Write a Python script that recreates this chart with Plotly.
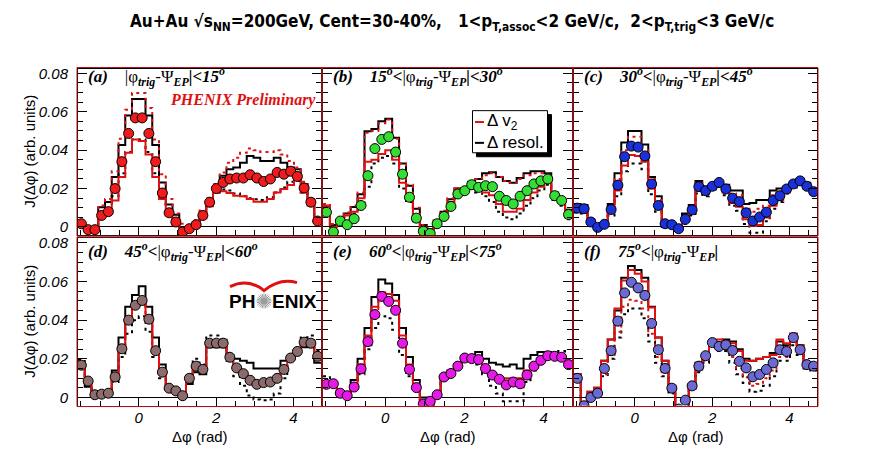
import numpy as np
import plotly.graph_objects as go

# bins in delta phi: 36 bins from -pi/2 to 3pi/2
n_bins = 36
edges = -np.pi / 2 + np.arange(n_bins + 1) * (2 * np.pi / n_bins)
centers = 0.5 * (edges[:-1] + edges[1:])

# ---- panel (a) 0-15 deg
a_pts = [0.0017, -0.0014, -0.0014, 0.0060, 0.0080, 0.0200, 0.0340, 0.0487, 0.0568, 0.0568, 0.0487, 0.0340,
         0.0177, 0.0074, 0.0026, -0.0026, -0.0009, 0.0012, 0.0060, 0.0129, 0.0200, 0.0232, 0.0250, 0.0255,
         0.0255, 0.0272, 0.0255, 0.0237, 0.0250, 0.0284, 0.0275, 0.0290, 0.0263, 0.0203, 0.0129, 0.0031]
a_bs = [0.0015, -0.0008, -0.0008, 0.0103, 0.0130, 0.0260, 0.0427, 0.0580, 0.0666, 0.0666, 0.0580, 0.0427,
        0.0232, 0.0117, 0.0064, 0.0000, 0.0000, 0.0026, 0.0070, 0.0132, 0.0203, 0.0267, 0.0300, 0.0310,
        0.0335, 0.0370, 0.0360, 0.0344, 0.0344, 0.0360, 0.0335, 0.0310, 0.0300, 0.0224, 0.0138, 0.0043]
a_bd = [0.0015, -0.0010, -0.0010, 0.0060, 0.0085, 0.0160, 0.0280, 0.0390, 0.0455, 0.0455, 0.0390, 0.0280,
        0.0160, 0.0060, 0.0020, -0.0020, -0.0010, 0.0010, 0.0060, 0.0120, 0.0180, 0.0195, 0.0190, 0.0175,
        0.0160, 0.0150, 0.0145, 0.0140, 0.0155, 0.0180, 0.0205, 0.0235, 0.0240, 0.0180, 0.0125, 0.0030]
a_rs = [0.0012, -0.0012, -0.0012, 0.0046, 0.0077, 0.0138, 0.0260, 0.0387, 0.0456, 0.0447, 0.0378, 0.0260,
        0.0146, 0.0060, 0.0010, -0.0034, -0.0017, 0.0000, 0.0046, 0.0108, 0.0180, 0.0186, 0.0177, 0.0163,
        0.0160, 0.0146, 0.0132, 0.0132, 0.0146, 0.0180, 0.0198, 0.0218, 0.0250, 0.0180, 0.0112, 0.0026]
a_rd = [0.0020, 0.0000, 0.0000, 0.0112, 0.0146, 0.0290, 0.0460, 0.0610, 0.0697, 0.0697, 0.0620, 0.0456,
        0.0275, 0.0146, 0.0070, 0.0017, 0.0005, 0.0034, 0.0086, 0.0150, 0.0224, 0.0284, 0.0335, 0.0360,
        0.0387, 0.0408, 0.0400, 0.0390, 0.0390, 0.0400, 0.0378, 0.0344, 0.0310, 0.0236, 0.0146, 0.0050]

# ---- panel (b) 15-30 deg
b_pts = [0.0077, -0.0026, 0.0031, 0.0012, 0.0043, 0.0112, 0.0267, 0.0408, 0.0456, 0.0470, 0.0390, 0.0275,
         0.0155, 0.0046, -0.0022, -0.0034, 0.0017, 0.0055, 0.0107, 0.0172, 0.0189, 0.0220, 0.0206, 0.0215,
         0.0210, 0.0160, 0.0138, 0.0120, 0.0160, 0.0189, 0.0224, 0.0240, 0.0250, 0.0163, 0.0138, 0.0065]
b_bs = [0.0110, 0.0010, 0.0030, 0.0070, 0.0104, 0.0170, 0.0499, 0.0510, 0.0550, 0.0564, 0.0464, 0.0330,
        0.0215, 0.0095, 0.0010, -0.0010, 0.0030, 0.0080, 0.0145, 0.0200, 0.0200, 0.0235, 0.0250, 0.0280,
        0.0285, 0.0260, 0.0240, 0.0230, 0.0255, 0.0280, 0.0290, 0.0290, 0.0280, 0.0180, 0.0150, 0.0090]
b_bd = [0.0100, -0.0020, 0.0020, 0.0050, 0.0070, 0.0120, 0.0210, 0.0330, 0.0360, 0.0370, 0.0330, 0.0200,
        0.0130, 0.0030, -0.0030, -0.0040, 0.0005, 0.0050, 0.0105, 0.0180, 0.0195, 0.0200, 0.0180, 0.0160,
        0.0130, 0.0080, 0.0050, 0.0040, 0.0070, 0.0110, 0.0150, 0.0190, 0.0220, 0.0140, 0.0110, 0.0040]
b_rs = [0.0110, 0.0000, 0.0020, 0.0060, 0.0080, 0.0150, 0.0340, 0.0350, 0.0380, 0.0400, 0.0350, 0.0230,
        0.0160, 0.0040, -0.0020, -0.0030, 0.0015, 0.0070, 0.0130, 0.0200, 0.0200, 0.0215, 0.0190, 0.0180,
        0.0165, 0.0120, 0.0080, 0.0080, 0.0095, 0.0140, 0.0180, 0.0210, 0.0240, 0.0160, 0.0130, 0.0050]
b_rd = [0.0120, 0.0015, 0.0035, 0.0075, 0.0110, 0.0180, 0.0490, 0.0500, 0.0540, 0.0560, 0.0460, 0.0330,
        0.0220, 0.0100, 0.0010, -0.0005, 0.0035, 0.0085, 0.0150, 0.0200, 0.0200, 0.0230, 0.0250, 0.0270,
        0.0280, 0.0260, 0.0240, 0.0230, 0.0250, 0.0270, 0.0280, 0.0280, 0.0275, 0.0175, 0.0150, 0.0090]

# ---- panel (c) 30-45 deg
c_pts = [0.0098, 0.0095, 0.0026, -0.0002, 0.0014, 0.0091, 0.0218, 0.0366, 0.0421, 0.0416, 0.0370, 0.0224,
         0.0112, 0.0017, 0.0012, -0.0009, 0.0040, 0.0089, 0.0210, 0.0189, 0.0212, 0.0232, 0.0198, 0.0150,
         0.0132, 0.0074, 0.0031, 0.0052, 0.0077, 0.0138, 0.0163, 0.0198, 0.0224, 0.0240, 0.0212, 0.0184]
c_bs = [0.0120, 0.0115, 0.0040, 0.0010, 0.0020, 0.0120, 0.0280, 0.0440, 0.0500, 0.0500, 0.0430, 0.0260,
        0.0160, 0.0030, 0.0020, 0.0000, 0.0070, 0.0115, 0.0240, 0.0210, 0.0220, 0.0235, 0.0220, 0.0190,
        0.0190, 0.0120, 0.0125, 0.0140, 0.0140, 0.0190, 0.0200, 0.0210, 0.0235, 0.0250, 0.0230, 0.0200]
c_bd = [0.0075, 0.0070, 0.0010, -0.0012, 0.0005, 0.0060, 0.0160, 0.0290, 0.0330, 0.0330, 0.0300, 0.0170,
        0.0080, 0.0000, -0.0005, -0.0020, 0.0015, 0.0060, 0.0175, 0.0160, 0.0195, 0.0210, 0.0165, 0.0110,
        0.0085, 0.0015, -0.0030, -0.0030, 0.0030, 0.0095, 0.0130, 0.0175, 0.0205, 0.0225, 0.0195, 0.0165]
c_rs = [0.0085, 0.0080, 0.0015, -0.0008, 0.0008, 0.0075, 0.0190, 0.0320, 0.0375, 0.0370, 0.0340, 0.0200,
        0.0095, 0.0008, 0.0005, -0.0015, 0.0030, 0.0075, 0.0190, 0.0170, 0.0200, 0.0215, 0.0180, 0.0125,
        0.0105, 0.0040, 0.0005, 0.0010, 0.0050, 0.0110, 0.0140, 0.0180, 0.0210, 0.0230, 0.0200, 0.0170]
c_rd = [0.0110, 0.0110, 0.0035, 0.0005, 0.0018, 0.0110, 0.0250, 0.0400, 0.0470, 0.0470, 0.0400, 0.0250,
        0.0140, 0.0025, 0.0018, -0.0003, 0.0055, 0.0105, 0.0230, 0.0205, 0.0215, 0.0230, 0.0215, 0.0175,
        0.0165, 0.0095, 0.0080, 0.0095, 0.0110, 0.0165, 0.0185, 0.0205, 0.0230, 0.0245, 0.0225, 0.0195]

# ---- panel (d) 45-60 deg
d_pts = [0.0167, 0.0085, 0.0014, 0.0017, 0.0022, 0.0106, 0.0252, 0.0400, 0.0477, 0.0502, 0.0405, 0.0242,
         0.0131, 0.0048, 0.0034, 0.0009, 0.0099, 0.0162, 0.0145, 0.0281, 0.0281, 0.0281, 0.0208, 0.0153,
         0.0123, 0.0089, 0.0068, 0.0077, 0.0080, 0.0099, 0.0145, 0.0204, 0.0238, 0.0286, 0.0281, 0.0213]
d_bs = [0.0150, 0.0055, 0.0005, 0.0010, 0.0020, 0.0140, 0.0310, 0.0470, 0.0530, 0.0575, 0.0470, 0.0310,
        0.0170, 0.0045, 0.0030, 0.0000, 0.0070, 0.0130, 0.0120, 0.0260, 0.0260, 0.0260, 0.0220, 0.0200,
        0.0190, 0.0180, 0.0150, 0.0150, 0.0150, 0.0150, 0.0190, 0.0210, 0.0240, 0.0260, 0.0260, 0.0180]
d_bd = [0.0195, 0.0075, 0.0005, 0.0010, 0.0015, 0.0080, 0.0210, 0.0330, 0.0400, 0.0420, 0.0340, 0.0210,
        0.0100, 0.0040, 0.0030, 0.0010, 0.0120, 0.0200, 0.0170, 0.0320, 0.0320, 0.0300, 0.0190, 0.0110,
        0.0060, 0.0010, -0.0010, -0.0015, -0.0010, 0.0020, 0.0100, 0.0200, 0.0250, 0.0310, 0.0320, 0.0240]
d_rs = [0.0165, 0.0083, 0.0012, 0.0015, 0.0020, 0.0104, 0.0250, 0.0398, 0.0474, 0.0498, 0.0402, 0.0240,
        0.0129, 0.0046, 0.0032, 0.0007, 0.0097, 0.0160, 0.0143, 0.0279, 0.0279, 0.0279, 0.0206, 0.0151,
        0.0121, 0.0087, 0.0066, 0.0075, 0.0078, 0.0097, 0.0143, 0.0202, 0.0236, 0.0284, 0.0279, 0.0211]
d_rd = [0.0169, 0.0087, 0.0016, 0.0019, 0.0024, 0.0108, 0.0254, 0.0402, 0.0480, 0.0506, 0.0408, 0.0244,
        0.0133, 0.0050, 0.0036, 0.0011, 0.0101, 0.0164, 0.0147, 0.0283, 0.0283, 0.0283, 0.0210, 0.0155,
        0.0125, 0.0091, 0.0070, 0.0079, 0.0082, 0.0101, 0.0147, 0.0206, 0.0240, 0.0288, 0.0283, 0.0215]

# ---- panel (e) 60-75 deg
e_pts = [0.0068, 0.0071, 0.0022, 0.0009, 0.0054, 0.0148, 0.0289, 0.0429, 0.0523, 0.0497, 0.0451, 0.0281,
         0.0145, 0.0051, -0.0034, -0.0020, 0.0014, 0.0106, 0.0124, 0.0162, 0.0204, 0.0201, 0.0196, 0.0150,
         0.0116, 0.0094, 0.0065, 0.0080, 0.0071, 0.0116, 0.0162, 0.0192, 0.0216, 0.0213, 0.0208, 0.0170]
e_bs = [0.0060, 0.0060, 0.0020, 0.0010, 0.0090, 0.0200, 0.0360, 0.0520, 0.0610, 0.0590, 0.0530, 0.0360,
        0.0210, 0.0090, 0.0000, -0.0020, 0.0020, 0.0100, 0.0130, 0.0170, 0.0200, 0.0200, 0.0235, 0.0200,
        0.0180, 0.0170, 0.0160, 0.0170, 0.0150, 0.0200, 0.0220, 0.0235, 0.0235, 0.0230, 0.0220, 0.0180]
e_bd = [0.0110, 0.0090, 0.0025, 0.0005, 0.0040, 0.0120, 0.0250, 0.0360, 0.0420, 0.0410, 0.0350, 0.0220,
        0.0110, 0.0040, -0.0045, -0.0045, 0.0020, 0.0120, 0.0140, 0.0160, 0.0190, 0.0190, 0.0170, 0.0120,
        0.0060, 0.0020, -0.0020, -0.0020, -0.0020, 0.0080, 0.0140, 0.0190, 0.0230, 0.0230, 0.0240, 0.0190]
e_rs = [0.0065, 0.0065, 0.0020, 0.0008, 0.0065, 0.0170, 0.0320, 0.0470, 0.0545, 0.0535, 0.0500, 0.0320,
        0.0170, 0.0070, -0.0040, -0.0040, 0.0005, 0.0105, 0.0130, 0.0170, 0.0200, 0.0200, 0.0200, 0.0155,
        0.0125, 0.0100, 0.0100, 0.0100, 0.0100, 0.0140, 0.0175, 0.0200, 0.0220, 0.0220, 0.0210, 0.0170]
e_rd = [0.0070, 0.0068, 0.0022, 0.0006, 0.0060, 0.0160, 0.0300, 0.0440, 0.0500, 0.0495, 0.0460, 0.0300,
        0.0160, 0.0065, -0.0042, -0.0042, 0.0005, 0.0105, 0.0125, 0.0160, 0.0195, 0.0195, 0.0190, 0.0140,
        0.0105, 0.0080, 0.0060, 0.0060, 0.0065, 0.0120, 0.0165, 0.0195, 0.0220, 0.0225, 0.0215, 0.0175]

# ---- panel (f) 75-90 deg
f_pts = [0.0099, -0.0043, 0.0000, 0.0022, 0.0150, 0.0242, 0.0395, 0.0541, 0.0596, 0.0567, 0.0528, 0.0383,
         0.0247, 0.0150, 0.0048, -0.0060, -0.0014, 0.0060, 0.0162, 0.0216, 0.0284, 0.0264, 0.0272, 0.0243,
         0.0187, 0.0153, 0.0107, 0.0119, 0.0145, 0.0179, 0.0247, 0.0238, 0.0310, 0.0247, 0.0170, 0.0162]
f_bs = [0.0120, -0.0050, 0.0030, 0.0050, 0.0190, 0.0300, 0.0450, 0.0620, 0.0680, 0.0660, 0.0620, 0.0470,
        0.0310, 0.0190, 0.0060, -0.0060, -0.0060, 0.0070, 0.0180, 0.0220, 0.0290, 0.0280, 0.0300, 0.0290,
        0.0250, 0.0200, 0.0190, 0.0200, 0.0210, 0.0230, 0.0290, 0.0270, 0.0330, 0.0270, 0.0180, 0.0170]
f_bd = [0.0085, -0.0050, 0.0005, 0.0025, 0.0110, 0.0200, 0.0310, 0.0430, 0.0460, 0.0460, 0.0410, 0.0290,
        0.0180, 0.0110, 0.0020, -0.0060, -0.0060, 0.0045, 0.0130, 0.0180, 0.0260, 0.0240, 0.0240, 0.0180,
        0.0120, 0.0075, 0.0030, 0.0035, 0.0060, 0.0110, 0.0190, 0.0190, 0.0270, 0.0220, 0.0150, 0.0140]
f_rs = [0.0120, -0.0050, 0.0030, 0.0050, 0.0190, 0.0300, 0.0460, 0.0605, 0.0660, 0.0640, 0.0600, 0.0465,
        0.0310, 0.0190, 0.0060, -0.0060, -0.0060, 0.0070, 0.0180, 0.0225, 0.0295, 0.0300, 0.0290, 0.0280,
        0.0240, 0.0190, 0.0190, 0.0200, 0.0210, 0.0220, 0.0300, 0.0280, 0.0330, 0.0270, 0.0180, 0.0160]
f_rd = [0.0090, -0.0050, 0.0010, 0.0030, 0.0120, 0.0220, 0.0340, 0.0470, 0.0505, 0.0500, 0.0460, 0.0330,
        0.0210, 0.0130, 0.0030, -0.0060, -0.0060, 0.0050, 0.0140, 0.0190, 0.0270, 0.0250, 0.0250, 0.0210,
        0.0150, 0.0105, 0.0060, 0.0070, 0.0100, 0.0140, 0.0210, 0.0210, 0.0290, 0.0240, 0.0160, 0.0150]

stat_err = 0.0013

# page is 896x472; the html body adds an 8px margin, so the figure is shifted by OFF
OFF = 8
W, H = 896 - OFF, 472 - OFF
RED = "#e01010"
NB = "\u00a0"


def fx(p):
    return (p - OFF) / W


def fy(p):
    return 1 - (p - OFF) / H


def lab(tag, lo, hi):
    s = "<b><i>(%s)</i></b>" % tag + NB * 4
    if lo:
        s += "<b><i>%s</i></b><sup><b><i>o</i></b></sup><b><i>&lt;</i></b>" % lo
    s += "|φ<sub><b><i>trig</i></b></sub>-Ψ<sub><b><i>EP</i></b></sub><b><i>|</i></b>"
    if hi:
        s += "<b><i>&lt;%s</i></b><sup><b><i>o</i></b></sup>" % hi
    return s


panels = [
    dict(pts=a_pts, bs=a_bs, bd=a_bd, rs=a_rs, rd=a_rd, color="#ee1c1c", label=lab("a", None, "15"),
         xd=(78, 321), yd=(65, 233), ly=73),
    dict(pts=b_pts, bs=b_bs, bd=b_bd, rs=b_rs, rd=b_rd, color="#33dd33", label=lab("b", "15", "30"),
         xd=(323, 572), yd=(65, 233), ly=73),
    dict(pts=c_pts, bs=c_bs, bd=c_bd, rs=c_rs, rd=c_rd, color="#1a30d8", label=lab("c", "30", "45"),
         xd=(574, 817), yd=(65, 233), ly=73),
    dict(pts=d_pts, bs=d_bs, bd=d_bd, rs=d_rs, rd=d_rd, color="#8b6b6b", label=lab("d", "45", "60"),
         xd=(78, 321), yd=(236, 405), ly=250),
    dict(pts=e_pts, bs=e_bs, bd=e_bd, rs=e_rs, rd=e_rd, color="#e619e6", label=lab("e", "60", "75"),
         xd=(323, 572), yd=(236, 405), ly=250),
    dict(pts=f_pts, bs=f_bs, bd=f_bd, rs=f_rs, rd=f_rd, color="#6a6ad2", label=lab("f", "75", None),
         xd=(574, 817), yd=(236, 405), ly=250),
]

fig = go.Figure()
layout = dict(width=W, height=H, autosize=False, margin=dict(l=0, r=0, t=0, b=0),
              paper_bgcolor="white", plot_bgcolor="white", showlegend=False)
annotations = []
shapes = []
tickfont = dict(family="Liberation Sans, Arial", size=15, color="black", style="italic")

xstep = list(edges)
for i, p in enumerate(panels):
    k = i + 1
    xs = "x" if k == 1 else "x%d" % k
    ys = "y" if k == 1 else "y%d" % k
    for key, col, dash in [("bd", "black", "3px,4px"), ("bs", "black", "solid"),
                           ("rd", RED, "3px,4px"), ("rs", RED, "solid")]:
        vals = list(p[key]) + [p[key][-1]]
        fig.add_trace(go.Scatter(x=xstep, y=vals, xaxis=xs, yaxis=ys, mode="lines", line_shape="hv",
                                 line=dict(color=col, width=2, dash=dash), hoverinfo="skip"))
    fig.add_trace(go.Scatter(x=centers, y=p["pts"], xaxis=xs, yaxis=ys, mode="markers",
                             marker=dict(size=10, color=p["color"], line=dict(color="black", width=1)),
                             error_y=dict(type="constant", value=stat_err, color="black", thickness=1, width=0)))
    bottom = p["yd"][0] > 200
    left = p["xd"][0] < 100
    xa = dict(domain=[fx(p["xd"][0]), fx(p["xd"][1])], anchor=ys, range=[-np.pi / 2, 1.5 * np.pi],
              showgrid=False, zeroline=False, showline=True, linecolor="black", linewidth=1, mirror=True,
              ticks="inside", ticklen=8, tickcolor="black", tick0=0, dtick=2,
              minor=dict(ticks="inside", ticklen=5, dtick=0.5, tickcolor="black"),
              showticklabels=bottom, tickfont=tickfont, ticklabelstandoff=-2)
    ya = dict(domain=[fy(p["yd"][1]), fy(p["yd"][0])], anchor=xs, range=[-0.0042, 0.0825],
              showgrid=False, zeroline=True, zerolinecolor="black", zerolinewidth=1,
              showline=True, linecolor="black", linewidth=1, mirror="ticks",
              ticks="inside", ticklen=9, tickcolor="black", tick0=0, dtick=0.02,
              minor=dict(ticks="inside", ticklen=5, dtick=0.005, tickcolor="black"),
              showticklabels=left, tickfont=tickfont, ticklabelstandoff=6)
    layout["xaxis" if k == 1 else "xaxis%d" % k] = xa
    layout["yaxis" if k == 1 else "yaxis%d" % k] = ya
    # red pad border
    shapes.append(dict(type="rect", xref="paper", yref="paper",
                       x0=fx(p["xd"][0] - 1), x1=fx(p["xd"][1] + 1),
                       y0=fy(p["yd"][1] + 1), y1=fy(p["yd"][0] - 1),
                       line=dict(color="#b01818", width=1)))
    annotations.append(dict(xref="paper", yref="paper", x=fx(p["xd"][0] + 8), y=fy(p["ly"]),
                            xanchor="left", yanchor="middle", showarrow=False, text=p["label"],
                            font=dict(family="Liberation Serif, Times New Roman", size=17, color="black")))
    if bottom:
        annotations.append(dict(xref="paper", yref="paper", x=fx(sum(p["xd"]) / 2), y=fy(436),
                                xanchor="center", yanchor="middle", showarrow=False, text="Δφ (rad)",
                                font=dict(family="Liberation Sans, Arial", size=15, color="black")))
    if left:
        annotations.append(dict(xref="paper", yref="paper", x=fx(30), y=fy(sum(p["yd"]) / 2),
                                xanchor="center", yanchor="middle", showarrow=False, textangle=-90,
                                text="J(Δφ) (arb. units)",
                                font=dict(family="Liberation Sans, Arial", size=15, color="black")))

# title
annotations.append(dict(xref="paper", yref="paper", x=fx(452), y=fy(19), xanchor="center", yanchor="middle",
                        showarrow=False,
                        text="<b>Au+Au √s<sub>NN</sub>=200GeV, Cent=30-40%," + NB * 3 +
                             "1&lt;p<sub>T,assoc</sub>&lt;2 GeV/c," + NB * 2 + "2&lt;p<sub>T,trig</sub>&lt;3 GeV/c</b>",
                        font=dict(family="Liberation Sans Narrow, DejaVu Sans Condensed, Arial Narrow",
                                  size=17, color="black")))
# preliminary tag
annotations.append(dict(xref="paper", yref="paper", x=fx(318), y=fy(97), xanchor="right", yanchor="middle",
                        showarrow=False, text="<b><i>PHENIX Preliminary</i></b>",
                        font=dict(family="Liberation Serif, Times New Roman", size=16, color=RED)))

# legend box in panel (b)
shapes.append(dict(type="rect", xref="paper", yref="paper", x0=fx(476.5), x1=fx(551.5), y0=fy(154),
                   y1=fy(111.5), fillcolor="black", line=dict(color="black", width=1)))
shapes.append(dict(type="rect", xref="paper", yref="paper", x0=fx(472.5), x1=fx(547.5), y0=fy(150),
                   y1=fy(107.5), fillcolor="white", line=dict(color="black", width=1)))
shapes.append(dict(type="line", xref="paper", yref="paper", x0=fx(475), x1=fx(484), y0=fy(119), y1=fy(119),
                   line=dict(color=RED, width=2)))
shapes.append(dict(type="line", xref="paper", yref="paper", x0=fx(475), x1=fx(484), y0=fy(140), y1=fy(140),
                   line=dict(color="black", width=2)))
annotations.append(dict(xref="paper", yref="paper", x=fx(485), y=fy(119), xanchor="left", yanchor="middle",
                        showarrow=False, text="Δ v<sub>2</sub>",
                        font=dict(family="Liberation Sans, Arial", size=17, color="black")))
annotations.append(dict(xref="paper", yref="paper", x=fx(485), y=fy(140), xanchor="left", yanchor="middle",
                        showarrow=False, text="Δ resol.",
                        font=dict(family="Liberation Sans, Arial", size=17, color="black")))

# PHENIX logo in panel (d)
logo_font = dict(family="Liberation Sans, Arial", size=19, color="black")
annotations.append(dict(xref="paper", yref="paper", x=fx(257), y=fy(300), xanchor="right", yanchor="middle",
                        showarrow=False, text="<b>PH</b>", font=logo_font))
annotations.append(dict(xref="paper", yref="paper", x=fx(270), y=fy(300), xanchor="left", yanchor="middle",
                        showarrow=False, text="<b>ENIX</b>", font=logo_font))
cx, cy, r = 264, 299.5, 7.5
for ang in np.arange(0, 180, 15):
    t = np.deg2rad(ang)
    shapes.append(dict(type="line", xref="paper", yref="paper",
                       x0=fx(cx - r * np.cos(t)), x1=fx(cx + r * np.cos(t)),
                       y0=fy(cy - r * np.sin(t)), y1=fy(cy + r * np.sin(t)),
                       line=dict(color="#9a9a9a", width=1)))


def pt(x, y):
    return "%.5f,%.5f" % (fx(x), fy(y))


shapes.append(dict(type="path", xref="paper", yref="paper",
                   path="M %s Q %s %s Q %s %s" % (pt(230, 285), pt(248, 276), pt(264, 289),
                                                  pt(280, 276), pt(297, 281)),
                   line=dict(color=RED, width=3)))

layout["annotations"] = annotations
layout["shapes"] = shapes
fig.update_layout(**layout)
fig.write_html("out.html")
